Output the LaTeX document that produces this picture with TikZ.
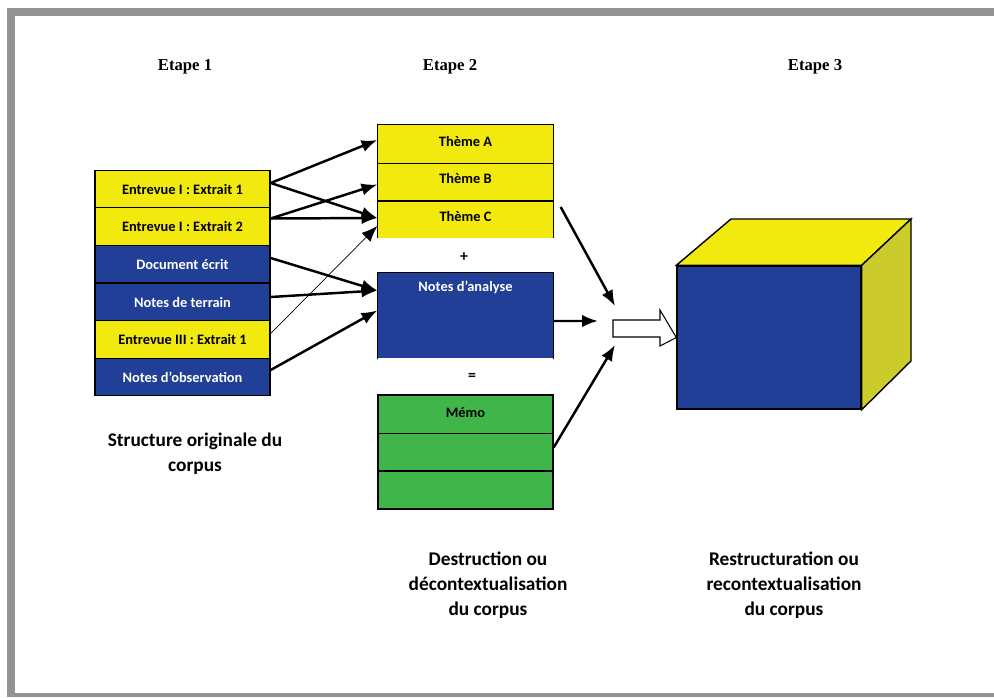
\documentclass[tikz,border=0pt]{standalone}
\usepackage{fontspec}
\setmainfont{Carlito}
\newfontfamily\etapefont{Liberation Serif}
\usetikzlibrary{arrows.meta,calc}
\definecolor{cyel}{HTML}{F2EA0E}
\definecolor{cblue}{HTML}{213F96}
\definecolor{cgreen}{HTML}{3FB54A}
\definecolor{cside}{HTML}{CCCB2C}
\definecolor{cframe}{HTML}{939395}
\tikzset{
  cell/.style={draw=black, line width=0.8pt, minimum width=3.5cm, minimum height=0.75cm, inner sep=0pt,
    font=\fontsize{8.2}{9}\selectfont\bfseries},
  yel/.style={cell, fill=cyel, text=black},
  blu/.style={cell, fill=cblue, text=white},
  grn/.style={cell, fill=cgreen, text=black},
  arr/.style={line width=1.4pt, -{Latex[length=9pt,width=7pt]}},
  thinarr/.style={line width=0.4pt, -{Latex[length=9pt,width=7pt]}},
  etape/.style={font=\etapefont\fontsize{9.5}{11}\selectfont\bfseries},
  caption/.style={align=center, font=\fontsize{11}{14.3}\selectfont\bfseries},
}
\begin{document}
\begin{tikzpicture}[x=0.02cm,y=-0.02cm]
\useasboundingbox (0,0) rectangle (994,697);
\fill[white] (0,0) rectangle (994,697);
\fill[cframe] (7,8) rectangle (994,697);
\fill[white] (15,16) rectangle (994,693);

% titles
\node[etape] (t1) at (185,67) {Etape 1};
\node[etape] (t2) at (450,67) {Etape 2};
\node[etape] (t3) at (815,67) {Etape 3};

% column 1
\node[yel] (e1) at (182.5,189) {Entrevue I : Extrait 1};
\node[yel] (e2) at (182.5,226.5) {Entrevue I : Extrait 2};
\node[blu] (de) at (182.5,264) {Document écrit};
\node[blu] (nt) at (182.5,302) {Notes de terrain};
\node[yel] (e3) at (182.5,339.5) {Entrevue III : Extrait 1};
\node[blu] (no) at (182.5,377) {Notes d'observation};

% column 2 : themes
\node[yel, draw=none] (thA) at (465.5,144) {\raisebox{3pt}{Thème A}};
\node[yel, draw=none] (thB) at (465.5,181.5) {\raisebox{3pt}{Thème B}};
\node[yel, draw=none] (thC) at (465.5,219) {\raisebox{3pt}{Thème C}};
\draw[line width=0.8pt] (thC.south west) -- (thA.north west) -- (thA.north east) -- (thC.south east);
\draw[line width=0.8pt] (thA.south west) -- (thA.south east);
\draw[line width=0.8pt] (thB.south west) -- (thB.south east);

\node[font=\fontsize{9}{10}\selectfont\bfseries] (plus) at (464,257) {+};

% notes d'analyse
\node[blu, draw=none, minimum height=1.7cm] (na) at (465.5,315.5) {};
\draw[line width=0.8pt] (na.south west) -- (na.north west) -- (na.north east) -- (na.south east);
\node[text=white, font=\fontsize{8.2}{9}\selectfont\bfseries] (nal) at (465.5,287) {Notes d'analyse};

\node[font=\fontsize{9}{10}\selectfont\bfseries] (eq) at (472,377) {=};

% memo
\node[grn, minimum height=0.78cm] (m1) at (465.5,414.5) {\raisebox{2pt}{Mémo}};
\node[grn] (m2) at (465.5,452.5) {};
\node[grn, minimum height=0.76cm] (m3) at (465.5,490) {};

% arrows column 1 -> column 2
\draw[arr] ($(e1.east)+(0,-6)$) -- ($(thA.west)+(0,-4)$);
\draw[arr] ($(e1.east)+(0,-6)$) -- ($(thC.west)+(0,-1)$);
\draw[arr] ($(e2.east)+(0,-8)$) -- ($(thB.west)+(0,3)$);
\draw[arr] ($(e2.east)+(0,-8)$) -- ($(thC.west)+(0,-1)$);
\draw[thinarr] ($(e3.east)+(0,-6)$) -- ($(thC.west)+(0,7)$);
\draw[arr] ($(de.east)+(0,-6)$) -- ($(na.west)+(0,-25)$);
\draw[arr] ($(nt.east)+(0,-5)$) -- ($(na.west)+(0,-25)$);
\draw[arr] ($(no.east)+(0,-7)$) -- ($(na.west)+(0,-5)$);

% converging arrows
\coordinate (c1) at (615,306);
\coordinate (c2) at (598,321);
\coordinate (c3) at (615,345);
\draw[arr] ($(thC.east)+(7,-12)$) -- (c1);
\draw[arr] ($(na.east)+(0,5.5)$) -- (c2);
\draw[arr] ($(m2.east)+(0,-5)$) -- (c3);

% cube
\node[draw=black, line width=0.8pt, fill=cblue, minimum width=3.68cm, minimum height=2.86cm, inner sep=0pt] (cube) at (769,337.5) {};
\coordinate (btl) at (731,219);
\coordinate (btr) at (911,219);
\coordinate (bbr) at (911,361);
\filldraw[fill=cyel, draw=black, line width=0.8pt] (cube.north west) -- (btl) -- (btr) -- (cube.north east) -- cycle;
\filldraw[fill=cside, draw=black, line width=0.8pt] (cube.north east) -- (btr) -- (bbr) -- (cube.south east) -- cycle;

% hollow block arrow
\filldraw[fill=white, draw=black, line width=0.6pt] (613,320) -- (660,320) -- (660,310) -- (cube.west) -- (660,346) -- (660,337) -- (613,337) -- cycle;

% captions
\node[caption] (cap1) at (195,454) {Structure originale du\\corpus};
\node[caption] (cap2) at (488,585) {Destruction ou\\décontextualisation\\du corpus};
\node[caption] (cap3) at (784,585) {Restructuration ou\\recontextualisation\\du corpus};
\end{tikzpicture}
\end{document}
